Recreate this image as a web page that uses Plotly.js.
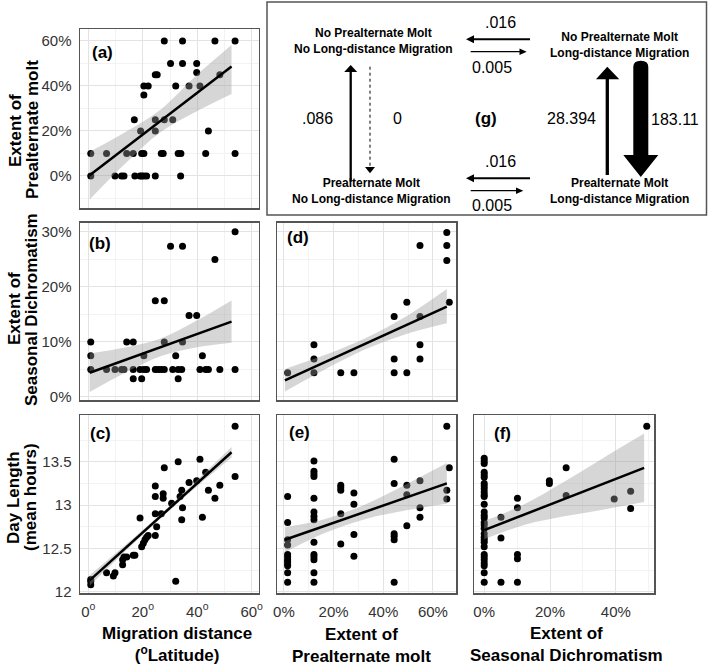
<!DOCTYPE html>
<html>
<head>
<meta charset="utf-8">
<script src="https://cdn.plot.ly/plotly-3.0.1.min.js"></script>
<style>
  body { margin: 0; background: #fff; }
  #myDiv { width: 709px; height: 668px; }
</style>
</head>
<body>
<div id="myDiv"></div>
<script>
/**************************************************************/
/* data */

// (a) migration distance vs extent of prealternate molt
var aMig  = [0.9,0.9,6.7,9.8,12.2,13.1,14.1,16.5,16.9,17.1,19.0,19.6,20.4,21.4,19.2,19.6,20.4,20.4,20.4,22.0,
             24.6,24.6,24.6,24.6,25.3,26.8,27.5,27.9,27.9,30.2,31.0,32.1,33.0,34.0,33.9,34.6,34.6,37.0,39.8,39.8,
             41.0,43.1,44.1,46.5,48.3,53.9,53.9];
var aMolt = [10,0,10,0,0,0,10,10,25,0,0,0,0,0,20,10,10,36,40,40,
             0,20,25,45,45,10,10,25,60,50,25,40,10,10,0,60,50,40,50,46,
             40,10,20,60,45,60,10];
var aFitX = [0.5, 52.6];
var aFitY = [0.3, 48.6];
var aBandX  = [0.5, 13.5, 26.5, 39.5, 52.6];
var aBandLo = [-10.5, 5.4, 19.4, 28.5, 36.4];
var aBandHi = [10.7, 19.4, 29.4, 44.5, 58.2];

// (b) migration distance vs seasonal dichromatism
var bMig    = [0.9,0.9,0.9,6.7,9.8,12.2,13.1,14.1,16.5,16.5,16.5,19.6,19.0,20.4,21.4,20.4,24.6,25.7,26.8,27.9,
               24.6,27.9,27.9,30.2,31.0,32.1,33.0,33.0,34.3,34.6,34.6,37.0,39.8,41.0,43.1,44.1,41.9,46.5,48.3,53.9,53.9];
var bDichro = [10,7.5,5,5,5,5,5,10,10,5,3.3,3.3,5,5,5,7.5,5,5,5,5,
               17.5,17.5,10,27.4,5,7.5,3.3,5,5,27.4,10,14.8,14.8,5,5,5,7.5,25,5,30,5];
var bFitX = [0.5, 52.6];
var bFitY = [4.4, 13.7];
var bBandX  = [0.5, 13.5, 26.5, 39.5, 52.6];
var bBandLo = [0.9, 4.4, 7.4, 9.0, 9.85];
var bBandHi = [7.9, 9.0, 10.6, 13.8, 17.55];

// (c) migration distance vs day length
var cMig = [0.9,0.9,0.9,6.7,9.2,9.8,12.6,12.6,13.1,14.1,16.5,17.1,19.0,19.6,20.2,20.8,21.4,22.0,24.6,25.1,
            24.6,24.6,24.6,26.8,27.5,27.5,27.9,30.6,33.0,32.1,33.7,34.3,34.6,34.3,37.0,39.8,41.0,41.9,43.1,44.1,
            46.5,48.3,53.9,53.9];
var cDay = [12.12,12.08,12.14,12.22,12.18,12.22,12.31,12.37,12.40,12.40,12.42,12.42,12.85,12.52,12.56,12.60,12.63,12.65,12.65,12.75,
            12.90,13.10,13.22,12.90,13.13,13.08,13.43,13.02,13.50,12.12,13.10,12.83,12.97,13.17,13.26,13.28,13.53,12.86,13.38,13.17,
            13.08,13.23,13.91,13.33];
var cFitX = [0.5, 52.6];
var cFitY = [12.13, 13.61];
var cBandX  = [0.5, 13.5, 26.5, 39.5, 52.6];
var cBandLo = [12.07, 12.465, 12.845, 13.205, 13.55];
var cBandHi = [12.19, 12.535, 12.895, 13.275, 13.67];

// (d) prealternate molt vs seasonal dichromatism
var dMolt   = [1.5,12.1,12.1,12.1,22.9,28.2,44.4,44.4,44.4,49.5,49.5,54.8,54.8,54.8,54.8,65.6,65.6,65.6,66.6];
var dDichro = [4.4,9.5,6.9,4.4,4.4,4.4,14.6,6.9,4.4,17.2,4.4,27.5,14.6,9.5,6.9,29.9,27.5,24.8,17.2];
var dFitX = [0.4, 65.6];
var dFitY = [3.0, 16.4];
var dBandX  = [0.4, 16.7, 33, 49.3, 65.6];
var dBandLo = [1.0, 5.05, 8.7, 11.45, 13.4];
var dBandHi = [5.1, 7.65, 10.7, 14.65, 19.6];

// (e) prealternate molt vs day length
var eMolt = [1.5,1.5,1.5,1.5,1.5,1.5,1.5,1.5,1.5,1.5,1.5,1.5,
             12.1,12.1,12.1,12.1,12.1,12.1,12.1,12.1,12.1,12.1,12.1,12.1,12.1,12.1,
             22.9,22.9,22.9,22.9,22.9,
             28.2,28.2,28.2,28.2,
             44.4,44.4,44.4,44.4,44.4,44.4,
             49.5,49.5,49.5,
             54.8,54.8,54.8,
             65.6,65.6,65.6,
             66.6];
var eDay  = [13.10,12.80,12.60,12.54,12.43,12.40,12.37,12.35,12.32,12.30,12.22,12.11,
             13.51,13.39,13.36,13.33,13.08,12.92,12.87,12.83,12.57,12.43,12.40,12.37,12.22,12.11,
             13.23,13.20,13.17,12.90,12.55,
             13.14,13.01,12.66,12.41,
             13.53,13.25,12.67,12.64,12.60,12.11,
             13.23,13.12,12.76,
             13.28,12.97,12.86,
             13.91,13.17,13.07,
             13.43];
var eFitX = [0.4, 65.6];
var eFitY = [12.6, 13.25];
var eBandX  = [0.4, 16.7, 33, 49.3, 65.6];
var eBandLo = [12.455, 12.68, 12.84, 12.94, 13.015];
var eBandHi = [12.745, 12.84, 13.01, 13.24, 13.485];

// (f) seasonal dichromatism vs day length
var fDichro = [0,0,0,0,0,0,0,0,0,0,0,0,0,0,0,0,0,0,0,0,0,0,0,0,0,0,0,0,0,0,0,
               5.1,5.1,5.1,
               10.1,10.1,10.1,10.1,10.1,
               19.8,19.8,
               24.9,24.9,
               39.5,
               44.5,44.5,
               49.4];
var fDay    = [13.54,13.51,13.48,13.38,13.35,13.32,13.25,13.22,13.19,13.15,13.12,13.10,13.01,12.92,12.88,12.85,
               12.80,12.77,12.73,12.67,12.63,12.60,12.57,12.52,12.43,12.40,12.37,12.33,12.30,12.22,12.11,
               12.86,12.62,12.11,
               13.08,12.97,12.43,12.38,12.11,
               13.28,13.25,
               13.43,13.11,
               13.07,
               13.16,12.96,
               13.91];
var fFitX = [0, 48.6];
var fFitY = [12.71, 13.43];
var fBandX  = [0, 12.15, 24.3, 36.45, 48.6];
var fBandLo = [12.605, 12.77, 12.87, 12.95, 13.035];
var fBandHi = [12.815, 13.01, 13.27, 13.55, 13.825];

// ticks
var migTicks    = [0, 20, 40, 60];
var moltTicks   = [0, 20, 40, 60];
var dichroTicks = [0, 10, 20, 30];
var dichroXTicks = [0, 20, 40];
var dayTicks    = [12, 12.5, 13, 13.5];
var dayLabels   = ['12', '12.5', '13', '13.5'];

// transition diagram (g)
var stateLines = [['No Prealternate Molt', 'No Long-distance Migration'],
                  ['No Prealternate Molt', 'Long-distance Migration'],
                  ['Prealternate Molt', 'No Long-distance Migration'],
                  ['Prealternate Molt', 'Long-distance Migration']];
var rateLabels = ['.016', '0.005', '.016', '0.005', '.086', '0', '28.394', '183.11'];

/**************************************************************/
var W = 709, H = 668;
function px(v) { return v / W; }
function py(v) { return 1 - v / H; }
function xd(l, r) { return [l / W, r / W]; }
function yd(t, b) { return [1 - b / H, 1 - t / H]; }
function pct(a) { return a.map(function (v) { return v + '%'; }); }
function deg(a) { return a.map(function (v) { return v + '<sup>o</sup>'; }); }

var FONT = 'Liberation Sans, Arial, sans-serif';
var tickFont = { family: FONT, size: 15, color: '#333' };

function makeAxis(dom, range, ticks, labels, minorVals, show, anchor) {
  return {
    domain: dom, range: range, anchor: anchor,
    showline: true, mirror: true, linecolor: '#555', linewidth: 1.5,
    showgrid: true, gridcolor: '#e3e3e3', gridwidth: 1, zeroline: false,
    tickmode: 'array', tickvals: ticks, ticktext: labels, ticks: '',
    showticklabels: show, tickfont: tickFont, ticklabelstandoff: 4,
    fixedrange: true,
    minor: { tickmode: 'array', tickvals: minorVals, showgrid: true,
             gridcolor: '#f0f0f0', gridwidth: 0.8, ticks: '' }
  };
}

function panel(xs, ys, fitX, fitY, bandX, lo, hi, xa, ya) {
  return [
    { x: xs, y: ys, xaxis: xa, yaxis: ya, type: 'scatter', mode: 'markers',
      marker: { color: '#000', size: 7 }, hoverinfo: 'skip' },
    { x: bandX, y: lo, xaxis: xa, yaxis: ya, type: 'scatter', mode: 'lines',
      line: { width: 0, shape: 'spline' }, hoverinfo: 'skip' },
    { x: bandX, y: hi, xaxis: xa, yaxis: ya, type: 'scatter', mode: 'lines',
      line: { width: 0, shape: 'spline' }, fill: 'tonexty',
      fillcolor: 'rgba(153,153,153,0.4)', hoverinfo: 'skip' },
    { x: fitX, y: fitY, xaxis: xa, yaxis: ya, type: 'scatter', mode: 'lines',
      line: { color: '#000', width: 2.5 }, hoverinfo: 'skip' }
  ];
}

var data = [].concat(
  panel(aMig, aMolt, aFitX, aFitY, aBandX, aBandLo, aBandHi, 'x', 'y'),
  panel(bMig, bDichro, bFitX, bFitY, bBandX, bBandLo, bBandHi, 'x2', 'y2'),
  panel(cMig, cDay, cFitX, cFitY, cBandX, cBandLo, cBandHi, 'x3', 'y3'),
  panel(dMolt, dDichro, dFitX, dFitY, dBandX, dBandLo, dBandHi, 'x4', 'y4'),
  panel(eMolt, eDay, eFitX, eFitY, eBandX, eBandLo, eBandHi, 'x5', 'y5'),
  panel(fDichro, fDay, fFitX, fFitY, fBandX, fBandLo, fBandHi, 'x6', 'y6')
);

/**************************************************************/
function note(text, x, y, size, angle) {
  return { text: text, x: px(x), y: py(y), xref: 'paper', yref: 'paper',
           showarrow: false, xanchor: 'center', yanchor: 'middle',
           textangle: angle || 0, font: { family: FONT, size: size, color: '#000' } };
}

var annotations = [
  // axis titles
  note('<b>Extent of</b>', 15, 131, 17, -90),
  note('<b>Prealternate molt</b>', 32, 130, 17, -90),
  note('<b>Extent of</b>', 15, 309, 17, -90),
  note('<b>Seasonal Dichromatism</b>', 32, 310, 17, -90),
  note('<b>Day Length</b>', 13, 498, 17, -90),
  note('<b>(mean hours)</b>', 31, 497, 17, -90),
  note('<b>Migration distance<br>(<sup>o</sup>Latitude)</b>', 177, 644, 17),
  note('<b>Extent of<br>Prealternate molt</b>', 361, 645, 17),
  note('<b>Extent of<br>Seasonal Dichromatism</b>', 566, 644, 17),
  // panel letters
  note('<b>(a)</b>', 102, 52, 17),
  note('<b>(b)</b>', 100, 243, 17),
  note('<b>(c)</b>', 100, 433, 17),
  note('<b>(d)</b>', 298, 238, 17),
  note('<b>(e)</b>', 299, 432, 17),
  note('<b>(f)</b>', 502, 433, 17),
  note('<b>(g)</b>', 486, 118, 17)
];

// state labels of the diagram
var statePos = [[374, 41], [619.5, 45.5], [371.5, 190.5], [619, 191]];
stateLines.forEach(function (s, i) {
  annotations.push(note('<b>' + s[0] + '<br>' + s[1] + '</b>', statePos[i][0], statePos[i][1], 12));
});

// rate labels
var ratePos = [[500, 23], [492, 67], [500, 162], [492, 205], [317, 118], [397, 118], [571, 118], [675, 120]];
rateLabels.forEach(function (r, i) {
  annotations.push(note(r, ratePos[i][0], ratePos[i][1], 16));
});

/**************************************************************/
function P(x, y) { return px(x).toFixed(5) + ',' + py(y).toFixed(5); }
function tri(a, b, c) {
  return { type: 'path', xref: 'paper', yref: 'paper',
           path: 'M' + P(a[0], a[1]) + 'L' + P(b[0], b[1]) + 'L' + P(c[0], c[1]) + 'Z',
           fillcolor: '#000', line: { width: 0 } };
}
function seg(x0, y0, x1, y1, w, dash) {
  return { type: 'line', xref: 'paper', yref: 'paper',
           x0: px(x0), y0: py(y0), x1: px(x1), y1: py(y1),
           line: { color: '#000', width: w, dash: dash || 'solid' } };
}

var shapes = [
  { type: 'rect', xref: 'paper', yref: 'paper', x0: px(267), x1: px(706.5), y0: py(215), y1: py(2),
    line: { color: '#555', width: 1.5 }, fillcolor: 'rgba(0,0,0,0)' },
  // top pair of horizontal arrows
  seg(473, 39.3, 530, 39.3, 2), tri([466, 39.3], [474, 35.3], [474, 43.3]),
  seg(470.7, 51.7, 520, 51.7, 1.3), tri([526.7, 51.7], [519.5, 48.5], [519.5, 54.9]),
  // bottom pair of horizontal arrows
  seg(473, 178.3, 530, 178.3, 2), tri([466, 178.3], [474, 174.3], [474, 182.3]),
  seg(470.7, 190.7, 516.5, 190.7, 1.3), tri([523.3, 190.7], [516, 187.5], [516, 193.9]),
  // left column
  seg(350.7, 71, 350.7, 181.7, 2.3), tri([350.7, 65], [344.2, 72], [357.2, 72]),
  seg(370, 66.7, 370, 167, 1, 'dot'), tri([370, 173.3], [365, 167], [375, 167]),
  // right column
  seg(607.3, 78, 607.3, 175, 3.3), tri([607.3, 66.7], [596, 79.3], [619.3, 79.3]),
  { type: 'path', xref: 'paper', yref: 'paper', fillcolor: '#000', line: { width: 0 },
    path: 'M' + P(633.3, 155) + 'L' + P(633.3, 67) + 'Q' + P(633.3, 60.7) + ' ' + P(640.8, 60.7) +
          'Q' + P(648.3, 60.7) + ' ' + P(648.3, 67) + 'L' + P(648.3, 155) + 'L' + P(658.3, 155) +
          'L' + P(640.8, 177) + 'L' + P(623.3, 155) + 'Z' }
];

/**************************************************************/
var layout = {
  width: W, height: H,
  margin: { l: 0, r: 0, t: 0, b: 0 },
  paper_bgcolor: '#fff', plot_bgcolor: '#fff',
  showlegend: false,
  hovermode: false,
  xaxis:  makeAxis(xd(80, 258.5), [-3.05, 62.5], migTicks, deg(migTicks), [10, 30, 50], false, 'y'),
  yaxis:  makeAxis(yd(29, 208.3), [-14.4, 65.3], moltTicks, pct(moltTicks), [-10, 10, 30, 50], true, 'x'),
  xaxis2: makeAxis(xd(80, 258.5), [-3.05, 62.5], migTicks, deg(migTicks), [10, 30, 50], false, 'y2'),
  yaxis2: makeAxis(yd(222.5, 400), [-0.55, 31.7], dichroTicks, pct(dichroTicks), [5, 15, 25], true, 'x2'),
  xaxis3: makeAxis(xd(80, 258.5), [-3.05, 62.5], migTicks, deg(migTicks), [10, 30, 50], true, 'y3'),
  yaxis3: makeAxis(yd(415, 593), [11.985, 14.04], dayTicks, dayLabels, [12.25, 12.75, 13.25, 13.75], true, 'x3'),
  xaxis4: makeAxis(xd(277, 456), [-2.78, 69.3], moltTicks, pct(moltTicks), [10, 30, 50], false, 'y4'),
  yaxis4: makeAxis(yd(222.5, 400), [-0.55, 31.7], dichroTicks, pct(dichroTicks), [5, 15, 25], false, 'x4'),
  xaxis5: makeAxis(xd(277, 456), [-2.78, 69.3], moltTicks, pct(moltTicks), [10, 30, 50], true, 'y5'),
  yaxis5: makeAxis(yd(415, 593), [11.985, 14.04], dayTicks, dayLabels, [12.25, 12.75, 13.25, 13.75], false, 'x5'),
  xaxis6: makeAxis(xd(474, 654), [-3.1, 51.6], dichroXTicks, pct(dichroXTicks), [10, 30, 50], true, 'y6'),
  yaxis6: makeAxis(yd(415, 593), [11.985, 14.04], dayTicks, dayLabels, [12.25, 12.75, 13.25, 13.75], false, 'x6'),
  annotations: annotations,
  shapes: shapes
};

Plotly.newPlot('myDiv', data, layout, { displayModeBar: false, staticPlot: true });
</script>
</body>
</html>
